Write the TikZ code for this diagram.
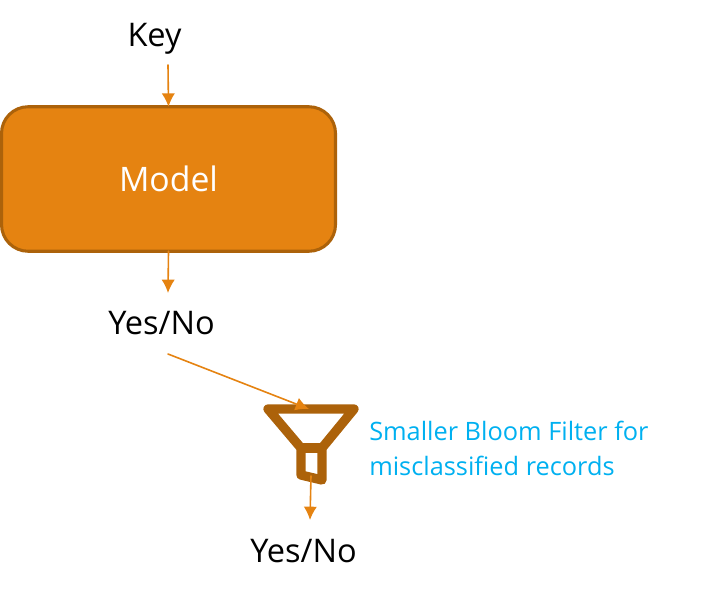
\documentclass[tikz,border=0pt]{standalone}
\usepackage{fontspec}
\setmainfont{Open Sans}
\definecolor{boxfill}{RGB}{229,131,17}
\definecolor{boxedge}{RGB}{172,98,10}
\definecolor{notecolor}{RGB}{0,176,240}
\tikzset{
	label/.style={font=\fontsize{24.4}{24}\selectfont,text=black},
	link/.style={draw=boxfill,line width=1.2pt,-{Latex[length=10pt,width=10pt]}},
}
\usetikzlibrary{arrows.meta}
\begin{document}
\begin{tikzpicture}[x=0.75pt,y=-0.75pt,line join=round,line cap=round]
			\useasboundingbox (0,0) rectangle (708,596);
			\path
			(168,65)coordinate(keyout)
			(168,293)coordinate(modelend)
			(168,354)coordinate(yesout)
			(309,409)coordinate(funneltop)
			(311,476)coordinate(funnelout)
			(310,520)coordinate(funnelend)
			;
			\node[label] (key) at (154.5,39) {Key};
			\node[draw=boxedge,fill=boxfill,line width=2.3pt,rounded corners=20pt,minimum width=250.5pt,minimum height=108.4pt,inner sep=0pt,outer sep=0pt,font=\fontsize{25.3}{24}\selectfont,text=white] (model) at (168.5,179) {Model};
			\node[label] (yes) at (161.5,323) {Yes/No};
			\node[label] (yes2) at (303.5,551.5) {Yes/No};
			\node[anchor=west,align=left,font=\fontsize{19}{26.5}\selectfont,text=notecolor,inner sep=0pt] (note) at (369,448.5) {Smaller Bloom Filter for\\misclassified records};
			\draw[boxedge,line width=7pt] (268,409) -- (354,409) -- (322,448) -- (322,480) -- (301,475) -- (301,448) -- cycle;
			\draw[boxedge,line width=7pt] (301,448) -- (322,448);
			\draw[link] (keyout) -- (model.north);
			\draw[link] (model.south) -- (modelend);
			\draw[link] (yesout) -- (funneltop);
			\draw[link] (funnelout) -- (funnelend);
	\end{tikzpicture}
\end{document}
